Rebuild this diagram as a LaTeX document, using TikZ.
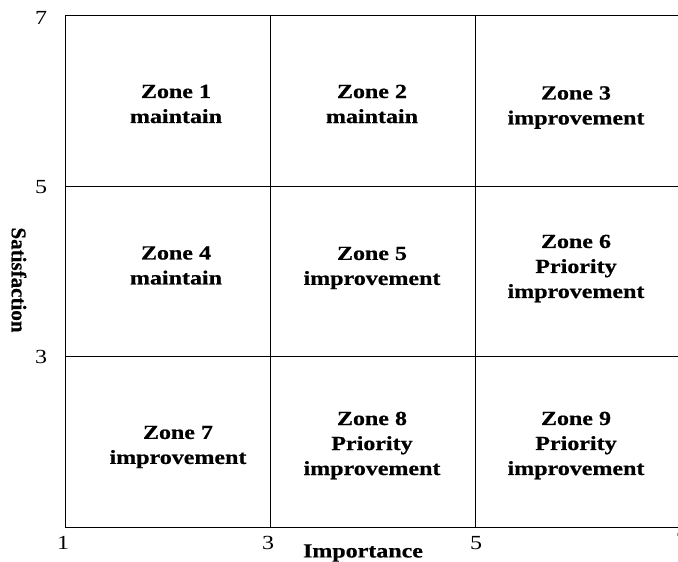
\documentclass[tikz,border=0pt]{standalone}
\usepackage{fontspec}
\setmainfont{Liberation Serif}[FakeStretch=1.2,BoldFeatures={FakeBold=0.6}]
\newfontfamily\uprightserif{Liberation Serif}[BoldFeatures={FakeBold=0.6}]
\begin{document}
\begin{tikzpicture}[x=1pt,y=1pt,
  gridline/.style={line width=1pt,black},
  zone/.style={align=center,font=\fontsize{20}{25}\selectfont\bfseries,inner sep=0pt},
  tick/.style={font=\fontsize{20}{24}\selectfont,inner sep=0pt},
  axistitle/.style={font=\fontsize{20}{24}\selectfont\bfseries,inner sep=0pt}]
\useasboundingbox (0,0) rectangle (678,562);
% grid of the nine zones (y measured upward from the bottom)
\coordinate (tl) at (65.5,546);
\coordinate (bl) at (65.5,34);
\draw[gridline] (700,546) -- (tl) -- (bl) -- (700,34);
\draw[gridline] (65.5,375) -- (700,375);
\draw[gridline] (65.5,205) -- (700,205);
\draw[gridline] (270,546) -- (270,34);
\draw[gridline] (475,546) -- (475,34);
% zone labels
\node[zone] (z1) at (176,458) {Zone 1\\maintain};
\node[zone] (z2) at (372,458) {Zone 2\\maintain};
\node[zone] (z3) at (576,454.5) {Zone 3\\improvement};
\node[zone] (z4) at (176,296.5) {Zone 4\\maintain};
\node[zone] (z5) at (372,294) {Zone 5\\improvement};
\node[zone] (z6) at (576,293.5) {Zone 6\\Priority\\improvement};
\node[zone] (z7) at (178,115) {Zone 7\\improvement};
\node[zone] (z8) at (372,116.5) {Zone 8\\Priority\\improvement};
\node[zone] (z9) at (576,116.5) {Zone 9\\Priority\\improvement};
% axis tick values
\node[tick] (y7) at (41,544) {7};
\node[tick] (y5) at (41,375) {5};
\node[tick] (y3) at (41,205) {3};
\node[tick] (x1) at (63,19) {1};
\node[tick] (x3) at (268,19) {3};
\node[tick] (x5) at (476,19) {5};
\node[tick] (x7) at (682,22) {7};
% axis titles
\node[axistitle] (xt) at (363,9) {Importance};
\node[inner sep=0pt,rotate=-90,font=\uprightserif\fontsize{21}{24}\selectfont\bfseries] (yt) at (19,282) {Satisfaction};
\end{tikzpicture}
\end{document}
